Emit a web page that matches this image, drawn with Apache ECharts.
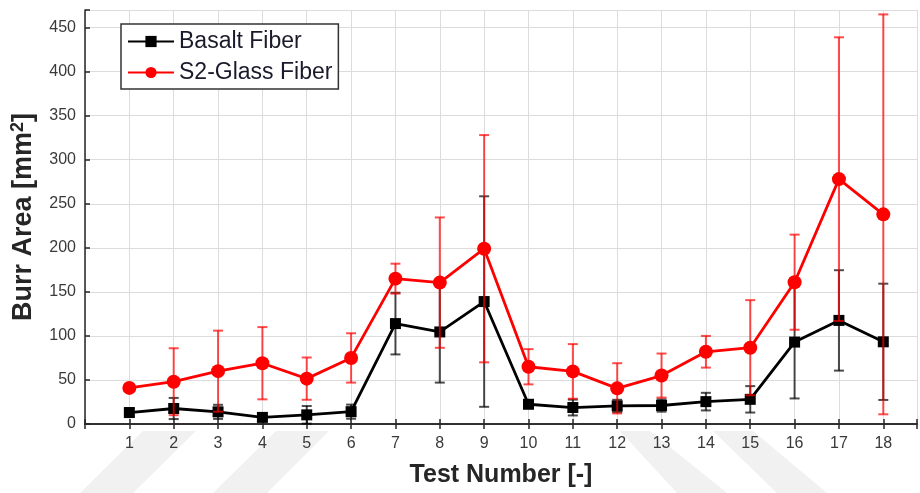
<!DOCTYPE html>
<html><head><meta charset="utf-8">
<script src="https://cdn.jsdelivr.net/npm/echarts@6/dist/echarts.min.js"></script>
<style>html,body{margin:0;padding:0;background:#fff}#c{width:920px;height:493px}</style>
</head><body><div id="c"></div>
<script>
const tests = [1,2,3,4,5,6,7,8,9,10,11,12,13,14,15,16,17,18];
const basaltMean = [13, 17.6, 13.8, 7.5, 10.4, 14, 114, 104.5, 139, 22.4, 18.7, 20.5, 21, 25.4, 28, 93, 117.6, 93.3];
const basaltErr  = [5, 12, 8, 2, 10, 8, 35, 57.5, 119.5, 4, 9, 7, 7, 10, 15, 64, 57, 66];
const glassMean  = [41, 48, 60, 69, 51.5, 75, 165, 160.5, 199, 65, 59.7, 40.5, 55, 82, 86.6, 161, 278, 238];
const glassErr   = [3, 38, 46, 41, 24, 28, 17, 74, 129, 20, 31, 28.5, 25, 18, 54, 54, 161, 227];
const yTicks = [0,50,100,150,200,250,300,350,400,450];

const FONT = '"Liberation Sans", Arial, sans-serif';
const chart = echarts.init(document.getElementById('c'), null, {renderer:'canvas'});

function errData(mean, err){ return tests.map((t,i)=>[t, mean[i]-err[i], mean[i]+err[i]]); }
function errRender(color){
  return function(params, api){
    const x = api.value(0), lo = api.value(1), hi = api.value(2);
    const p1 = api.coord([x, lo]), p2 = api.coord([x, hi]);
    const w = 5;
    const style = {stroke: color, lineWidth: 2, opacity: 0.7};
    return {type:'group', children:[
      {type:'line', shape:{x1:p1[0], y1:p1[1], x2:p2[0], y2:p2[1]}, style},
      {type:'line', shape:{x1:p1[0]-w, y1:p1[1], x2:p1[0]+w, y2:p1[1]}, style},
      {type:'line', shape:{x1:p2[0]-w, y1:p2[1], x2:p2[0]+w, y2:p2[1]}, style}
    ]};
  };
}
function band(pts){ return {type:'polygon', shape:{points:pts}, style:{fill:'#f1f1f1'}, z:-10, silent:true}; }

const axisLineStyle = {color:'#262626', width:1.5};
chart.setOption({
  animation:false,
  backgroundColor:'#fff',
  graphic:[
    band([[80,493],[133,493],[196,431],[143,431]]),
    band([[213,493],[267,493],[329,431],[276,431]]),
    band([[620,431],[650,431],[727,493],[677,493]]),
    band([[713,431],[753,431],[827,493],[777,493]])
  ],
  grid:{left:85, right:0, top:10, bottom:63},
  legend:{
    data:['Basalt Fiber','S2-Glass Fiber'],
    orient:'vertical', left:121, top:24,
    backgroundColor:'#fff', borderColor:'#333', borderWidth:1.5,
    padding:[6,6,5,6], itemGap:8, itemWidth:46, itemHeight:14,
    textStyle:{fontFamily:FONT, fontSize:23, color:'#1a1a2a'}
  },
  xAxis:[{
    type:'value', min:0, max:18.76, interval:1, position:'bottom',
    axisLine:{show:true, lineStyle:axisLineStyle, onZero:false},
    axisTick:{show:true, inside:true, length:5, lineStyle:{color:'#262626', width:1.5}},
    axisLabel:{fontFamily:FONT, fontSize:16, color:'#3a3a3a', margin:12,
      formatter:v=> (Number.isInteger(v) && v>=1 && v<=18) ? String(v) : ''},
    splitLine:{show:true, lineStyle:{color:'#dcdcdc', width:1}},
    name:'Test Number [-]', nameLocation:'middle', nameGap:39,
    nameTextStyle:{fontFamily:FONT, fontSize:25, fontWeight:'bold', color:'#262626'}
  },{
    type:'value', min:0, max:18.76, interval:1, position:'top',
    axisLine:{show:true, lineStyle:axisLineStyle},
    axisTick:{show:true, inside:true, length:5, lineStyle:{color:'#262626', width:1.5}},
    axisLabel:{show:false}, splitLine:{show:false}
  }],
  yAxis:{
    type:'value', min:0, max:470, interval:50,
    axisLine:{show:true, lineStyle:axisLineStyle},
    axisTick:{show:true, inside:true, length:5, lineStyle:{color:'#262626', width:1.5}},
    axisLabel:{fontFamily:FONT, fontSize:16, color:'#3a3a3a', margin:9,
      formatter:v=> yTicks.includes(v) ? String(v) : ''},
    splitLine:{show:true, lineStyle:{color:'#dcdcdc', width:1}},
    name:'{a|Burr Area [mm}{s|2}{a|]}', nameLocation:'middle', nameGap:46,
    nameTextStyle:{rich:{
      a:{fontFamily:FONT, fontSize:27, fontWeight:'bold', color:'#262626'},
      s:{fontFamily:FONT, fontSize:18, fontWeight:'bold', color:'#262626', verticalAlign:'top', padding:[0,0,12,0]}
    }}
  },
  series:[
    {name:'Basalt err', type:'custom', xAxisIndex:0, data:errData(basaltMean, basaltErr),
     encode:{x:0, y:[1,2]}, renderItem:errRender('#000'), z:2, silent:true},
    {name:'Basalt Fiber', type:'line', xAxisIndex:0, data:tests.map((t,i)=>[t, basaltMean[i]]),
     symbol:'rect', symbolSize:11, showAllSymbol:true, z:3,
     lineStyle:{color:'#000', width:2.8}, itemStyle:{color:'#000'}},
    {name:'Glass err', type:'custom', xAxisIndex:0, data:errData(glassMean, glassErr),
     encode:{x:0, y:[1,2]}, renderItem:errRender('#ff0000'), z:4, silent:true},
    {name:'S2-Glass Fiber', type:'line', xAxisIndex:0, data:tests.map((t,i)=>[t, glassMean[i]]),
     symbol:'circle', symbolSize:14, showAllSymbol:true, z:5,
     lineStyle:{color:'#ff0000', width:2.8}, itemStyle:{color:'#ff0000'}}
  ]
});
</script></body></html>
